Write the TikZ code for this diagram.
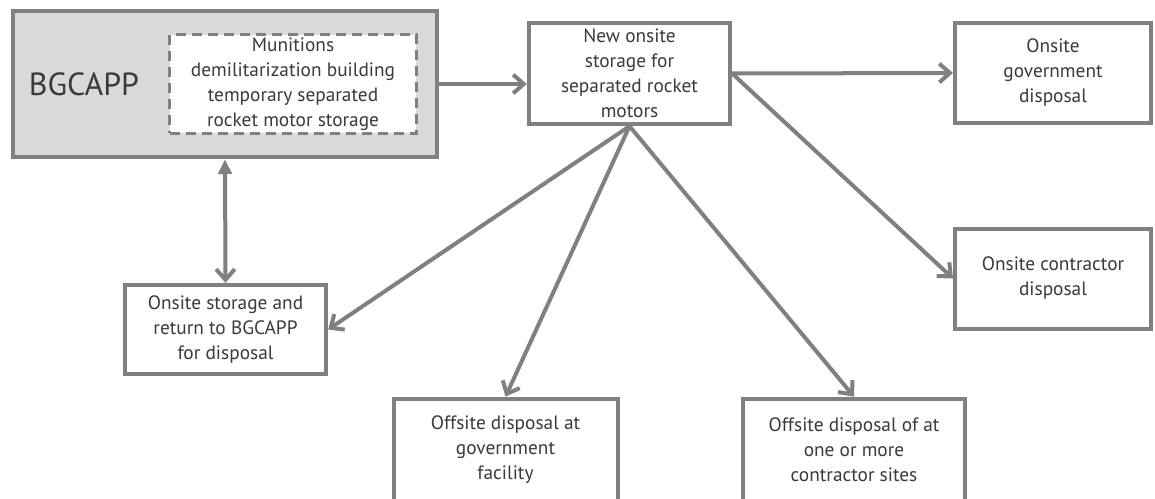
\documentclass[tikz,border=0pt]{standalone}
\usepackage{fontspec}
\setmainfont{PT Sans}
\usepackage{tikz}
\usetikzlibrary{arrows.meta}

\definecolor{boxgray}{HTML}{808080}
\definecolor{fillgray}{HTML}{D9D9D9}
\definecolor{textgray}{HTML}{3A3A3A}

\begin{document}
\begin{tikzpicture}[x=0.75pt, y=-0.75pt,
	box/.style={draw=boxgray, line width=3pt, fill=white, align=center, inner sep=2pt,
		text=textgray, font=\fontsize{14.5}{18.75}\selectfont},
	dashbox/.style={box, dash pattern=on 7.5pt off 4.5pt, line width=2.6pt},
	barb/.tip={Straight Barb[length=8pt,width=14pt]},
	wedge/.tip={Triangle[length=11pt,width=10pt]},
	flow/.style={draw=boxgray, line width=3pt, -barb}]
\useasboundingbox (0,0) rectangle (1155,499);
\path (225,84) node[box, fill=fillgray, minimum width=318pt, minimum height=110pt] (bgcapp) {}
		(84,84) node[text=textgray, font=\fontsize{24}{28}\selectfont] (bgcappname) {BGCAPP}
		(293,84) node[dashbox, minimum width=185pt, minimum height=74pt] (munitions) {Munitions\\demilitarization building\\temporary separated\\rocket motor storage}
		(629.5,73.5) node[box, minimum width=151pt, minimum height=76pt] (newstore) {New onsite\\storage for\\separated rocket\\motors}
		(1053,73) node[box, minimum width=147pt, minimum height=75.5pt] (govonsite) {Onsite\\government\\disposal}
		(1053,278.5) node[box, minimum width=147pt, minimum height=75pt] (contronsite) {Onsite contractor\\disposal}
		(225.5,329.5) node[box, minimum width=151pt, minimum height=67pt] (storage) {Onsite storage and\\return to BGCAPP\\for disposal}
		(505.5,450) node[box, minimum width=168pt, minimum height=77pt] (govoffsite) {Offsite disposal at\\government\\facility}
		(854,450) node[box, minimum width=167pt, minimum height=77pt] (controffsite) {Offsite disposal of at\\one or more\\contractor sites}
		;

\draw[flow] (node cs:name=bgcapp, anchor=east) -- (bgcapp.east -| newstore.west);
\draw[flow, wedge-barb] (node cs:name=bgcapp, anchor=south) -- (node cs:name=storage, anchor=north);

\draw[flow] (node cs:name=newstore, anchor=south) -- (node cs:name=storage, anchor=east);
\draw[flow] (node cs:name=newstore, anchor=south) -- (node cs:name=govoffsite, anchor=north);
\draw[flow] (node cs:name=newstore, anchor=south) -- (node cs:name=controffsite, anchor=north);
\draw[flow] (node cs:name=newstore, anchor=east) -- (node cs:name=govonsite, anchor=west);
\draw[flow] (node cs:name=newstore, anchor=east) -- (node cs:name=contronsite, anchor=west);
\end{tikzpicture}
\end{document}
